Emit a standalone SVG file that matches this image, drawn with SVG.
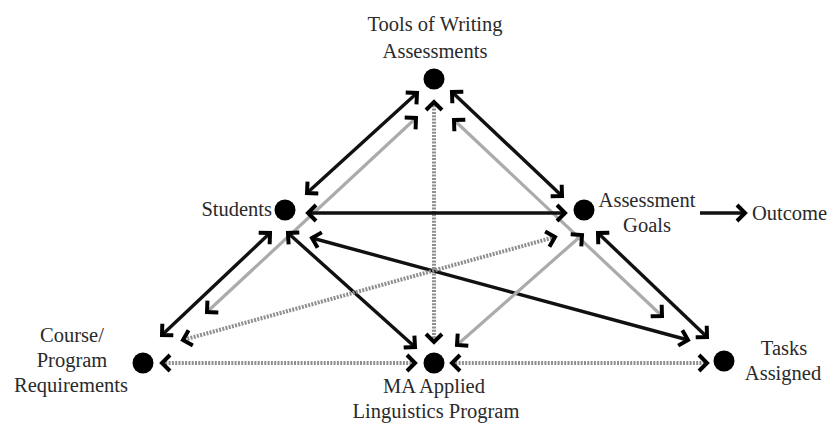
<svg xmlns="http://www.w3.org/2000/svg" width="831" height="425" viewBox="0 0 831 425">
<style>
text{font-family:"Liberation Serif","Times New Roman",serif;font-size:20.5px;fill:#2a2a2a;}
.dot{fill:#000;}
.blk{stroke:#111;stroke-width:3.4;fill:none;}
.gry{stroke:#ababab;stroke-width:3.2;fill:none;}
.dash{stroke:#8f8f8f;stroke-width:4;stroke-dasharray:2 1.3;fill:none;}
.dbl{marker-start:url(#ah);marker-end:url(#ah);}
.one{marker-end:url(#ah);}
</style>
<defs>
<marker id="ah" viewBox="-14 -14 28 28" markerWidth="28" markerHeight="28" refX="0" refY="0" orient="auto-start-reverse" markerUnits="userSpaceOnUse">
<path d="M-8,-8 L0,0 L-8,8" fill="none" stroke="#000" stroke-width="4"/>
</marker>
</defs>
<rect width="831" height="425" fill="#fff"/>
<g id="connectors">
<line class="blk dbl" x1="417" y1="93" x2="307" y2="193"/>
<line class="gry dbl" x1="416" y1="118" x2="207" y2="312"/>
<line class="dash dbl" x1="434" y1="102" x2="434" y2="342"/>
<line class="blk dbl" x1="452" y1="92" x2="562" y2="196"/>
<line class="gry dbl" x1="454" y1="120" x2="662" y2="316"/>
<line class="blk dbl" x1="308" y1="213" x2="565" y2="213"/>
<line class="blk dbl" x1="270" y1="233" x2="162" y2="335"/>
<line class="blk dbl" x1="288" y1="233" x2="415" y2="347"/>
<line class="blk dbl" x1="312" y1="238" x2="688" y2="340"/>
<line class="dash dbl" x1="555" y1="237" x2="183" y2="340"/>
<line class="gry dbl" x1="582" y1="235" x2="457" y2="345"/>
<line class="blk dbl" x1="598" y1="233" x2="707" y2="337"/>
<line class="dash dbl" x1="162" y1="363" x2="415" y2="363"/>
<line class="dash dbl" x1="452" y1="363" x2="707" y2="363"/>
<line class="blk one" x1="700" y1="213" x2="745" y2="213"/>
</g>
<g id="tools">
<circle class="dot" cx="434" cy="79" r="10.5"/>
<text x="435" y="31" text-anchor="middle">Tools of Writing</text>
<text x="435" y="58" text-anchor="middle">Assessments</text>
</g>
<g id="students">
<circle class="dot" cx="285" cy="210" r="10.5"/>
<text x="272" y="216" text-anchor="end">Students</text>
</g>
<g id="goals">
<circle class="dot" cx="584" cy="210" r="10.5"/>
<text x="647" y="207" text-anchor="middle">Assessment</text>
<text x="647" y="232" text-anchor="middle">Goals</text>
</g>
<g id="outcome">
<text x="752" y="220">Outcome</text>
</g>
<g id="course">
<circle class="dot" cx="143" cy="363" r="10.5"/>
<text x="72" y="342" text-anchor="middle">Course/</text>
<text x="72" y="367" text-anchor="middle">Program</text>
<text x="71" y="392" text-anchor="middle">Requirements</text>
</g>
<g id="ma">
<circle class="dot" cx="434" cy="363" r="10.5"/>
<text x="434" y="393" text-anchor="middle">MA Applied</text>
<text x="436" y="418" text-anchor="middle">Linguistics Program</text>
</g>
<g id="tasks">
<circle class="dot" cx="724" cy="361" r="10.5"/>
<text x="784" y="355" text-anchor="middle">Tasks</text>
<text x="783" y="380" text-anchor="middle">Assigned</text>
</g>
</svg>
